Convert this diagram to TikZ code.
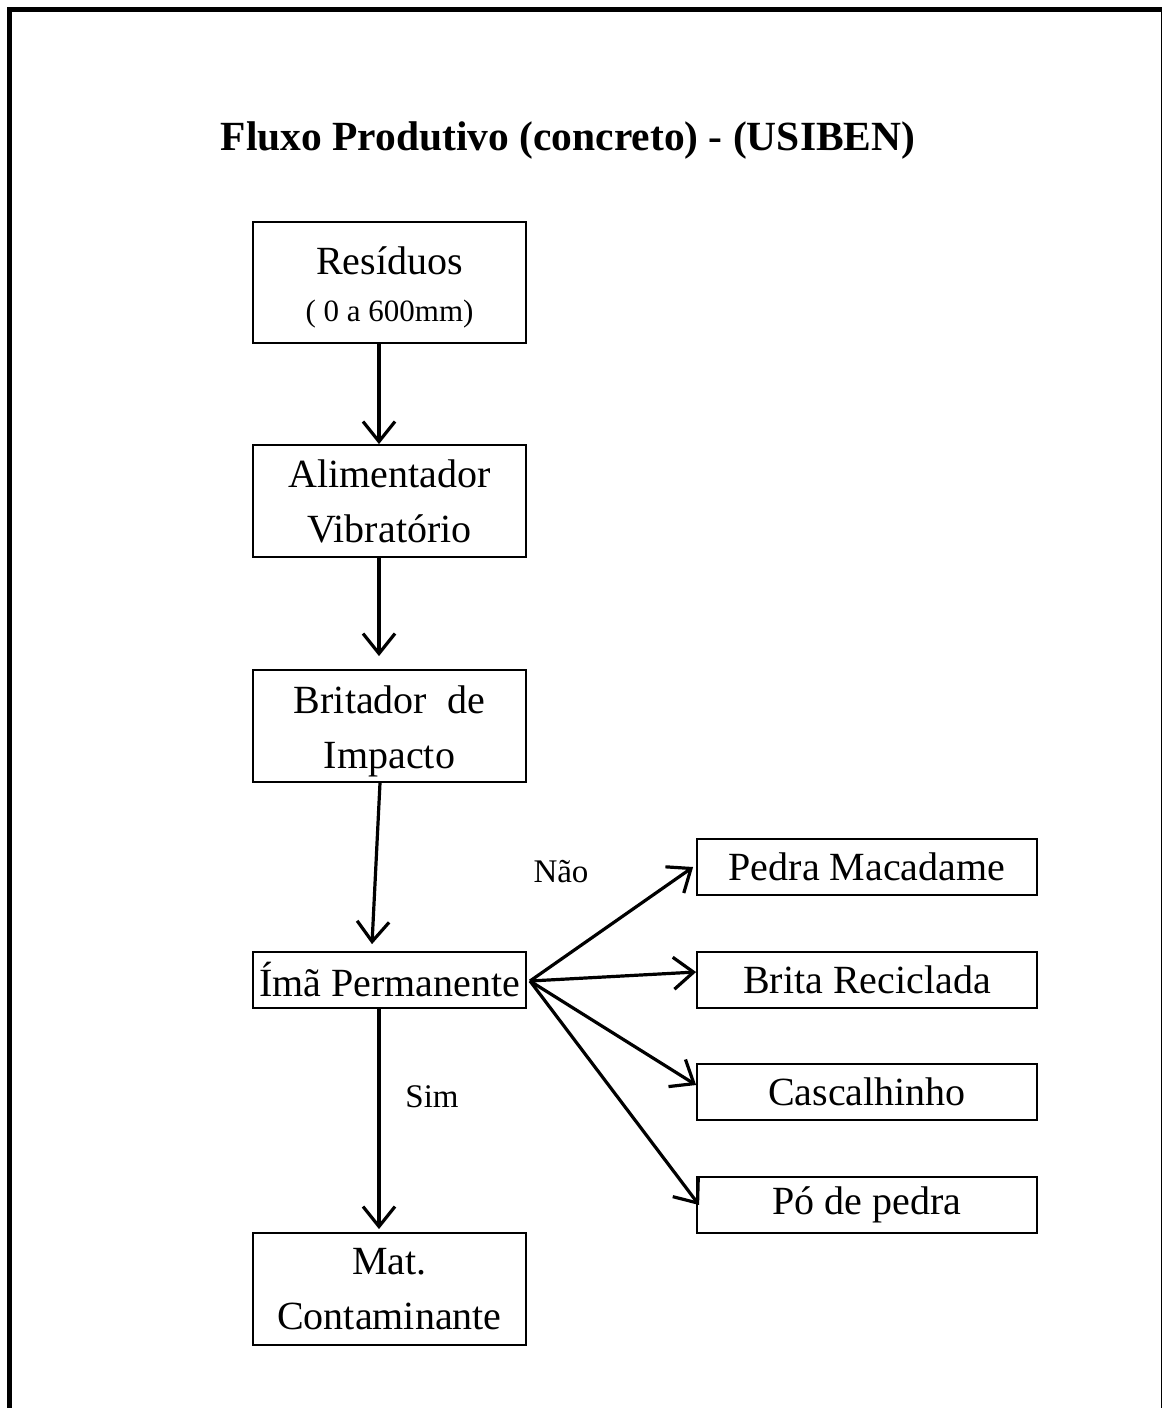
\documentclass[tikz,border=0pt]{standalone}
\usepackage{fontspec}
\setmainfont{Liberation Serif}
\usetikzlibrary{arrows.meta}
\begin{document}
\begin{tikzpicture}[x=1pt,y=-1pt,
  box/.style={draw, line width=1.8pt, rectangle, inner sep=0pt, align=center, font=\fontsize{40}{55}\selectfont},
  flow/.style={line width=3.2pt, -{Straight Barb[length=20pt,width=32pt,line width=3.2pt]}},
  lbl/.style={inner sep=0pt, font=\fontsize{33}{36}\selectfont}]
\useasboundingbox (0,0) rectangle (1162,1408);
% frame
\draw[line width=4.5pt] (7,9.7) -- (1162,9.7);
\draw[line width=4.5pt] (9.3,7.5) -- (9.3,1408);
\draw[line width=1.6pt] (1161.5,9.7) -- (1161.5,1408);
% title
\node[inner sep=0pt, font=\fontsize{41.5}{44}\selectfont\bfseries] (title) at (568,141) {Fluxo Produtivo (concreto) - (USIBEN)};
% left column
\node[box, minimum width=273pt, minimum height=121pt] (res) at (389.5,282.5) {\rule{0pt}{38pt}Resíduos\\[-8pt]{\fontsize{31}{36}\selectfont( 0 a 600mm)}};
\node[box, minimum width=273pt, minimum height=112pt] (ali) at (389.5,501) {Alimentador\\Vibratório};
\node[box, minimum width=273pt, minimum height=112pt] (bri) at (389.5,726) {\rule{0pt}{38pt}Britador~~de\\Impacto};
\node[box, minimum width=273pt, minimum height=56pt] (ima) at (389.5,980) {Ímã Permanente};
\node[box, minimum width=273pt, minimum height=112pt] (mat) at (389.5,1289) {Mat.\\Contaminante};
% right column
\node[box, minimum width=340pt, minimum height=56pt] (ped) at (867,867) {Pedra Macadame};
\node[box, minimum width=340pt, minimum height=56pt] (bri2) at (867,980) {Brita Reciclada};
\node[box, minimum width=340pt, minimum height=56pt] (cas) at (867,1092) {Cascalhinho};
\node[box, minimum width=340pt, minimum height=56pt] (po) at (867,1205) {Pó de pedra};
% labels
\node[lbl] (nao) at (561,872) {Não};
\node[lbl] (sim) at (432,1097) {Sim};
% connectors
\coordinate (hub) at (530,981);
\draw[flow] ([xshift=-10.5pt]res.south) -- ([xshift=-10.5pt]ali.north);
\draw[flow] ([xshift=-10.5pt]ali.south) -- ([xshift=-10.5pt,yshift=13pt]bri.north);
\draw[flow] ([xshift=-9.5pt]bri.south) -- ([xshift=-17.5pt,yshift=7pt]ima.north);
\draw[flow] ([xshift=-10.5pt]ima.south) -- ([xshift=-10.5pt,yshift=3pt]mat.north);
\draw[flow] (hub) -- ([xshift=-3pt]ped.west);
\draw[flow] (hub) -- ([yshift=8pt]bri2.west);
\draw[flow] (hub) -- ([yshift=7pt]cas.west);
\draw[flow] (hub) -- ([xshift=3pt]po.west);
\end{tikzpicture}
\end{document}
